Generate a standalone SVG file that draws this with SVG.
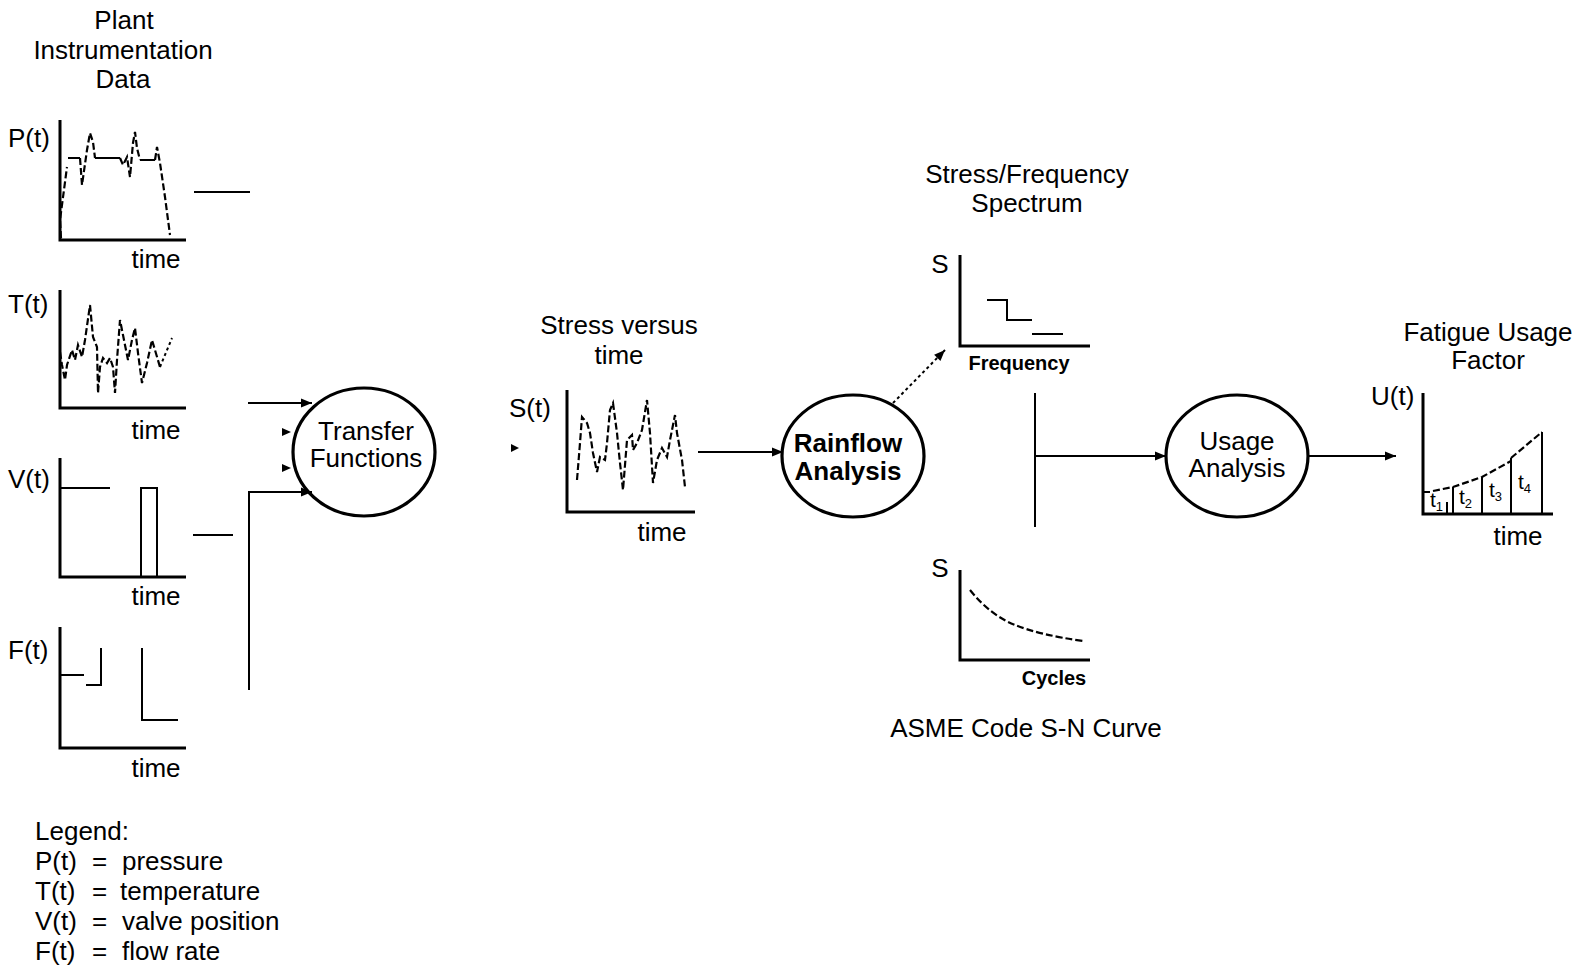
<svg xmlns="http://www.w3.org/2000/svg" width="1579" height="970" viewBox="0 0 1579 970">
<defs>
<style>
text{font-family:"Liberation Sans",Arial,sans-serif;font-size:26px;fill:#000}
.c{text-anchor:middle}
.b{font-weight:bold}
.sm{font-size:20px}
.tl{font-size:21px}
.sub{font-size:13px}
.ax{fill:none;stroke:#000;stroke-width:3}
.ln{fill:none;stroke:#000;stroke-width:2}
.ds{fill:none;stroke:#000;stroke-width:2.2;stroke-dasharray:7 3}
.dt{fill:none;stroke:#000;stroke-width:2;stroke-dasharray:3 3}
.el{fill:#fff;stroke:#000;stroke-width:3.2}
.cn{fill:none;stroke:#000;stroke-width:2}
</style>
<marker id="ah" viewBox="0 0 10 10" refX="10" refY="5" markerWidth="13" markerHeight="11" markerUnits="userSpaceOnUse" orient="auto"><path d="M0,1 L10,5 L0,9 z" fill="#000"/></marker>
</defs>
<rect width="1579" height="970" fill="#fff"/>

<g id="title-plant">
<text class="c" x="124" y="29">Plant</text>
<text class="c" x="123" y="59">Instrumentation</text>
<text class="c" x="123" y="88">Data</text>
</g>

<g id="plot-P">
<text x="8" y="147">P(t)</text>
<path class="ax" d="M60,120 V240 H186"/>
<path class="ds" d="M61,238 L60,220 L67,167"/>
<path class="ln" d="M68,158 H80"/>
<path class="ds" d="M80,158 L82,185 L87,150 L90,133 L93,142 L95,158"/>
<path class="ln" d="M95,158 H120"/>
<path class="ds" d="M120,158 L123,165 L127,157 L130,177 L133,143 L135,132 L137,148 L140,160"/>
<path class="ln" d="M140,160 H155"/>
<path class="ds" d="M155,160 L157,147 L160,163 L165,197 L170,235"/>
<text class="c" x="156" y="268">time</text>
</g>

<g id="plot-T">
<text x="8" y="313">T(t)</text>
<path class="ax" d="M60,290 V408 H186"/>
<path class="ds" d="M60,352 L62,365 L65,380 L67,365 L72,350 L75,360 L78,345 L82,357 L85,340 L90,305 L93,337 L97,347 L98,393 L100,367 L103,358 L107,363 L110,358 L113,367 L115,393 L117,360 L120,320 L123,335 L128,360 L132,340 L135,328 L138,353 L142,383 L147,363 L152,340 L160,367"/>
<path class="dt" d="M160,367 L172,338"/>
<text class="c" x="156" y="439">time</text>
</g>

<g id="plot-V">
<text x="8" y="488">V(t)</text>
<path class="ax" d="M60,458 V577 H186"/>
<path class="ln" d="M60,488 H110 M141,577 V488 H157 V577"/>
<text class="c" x="156" y="605">time</text>
</g>

<g id="plot-F">
<text x="8" y="659">F(t)</text>
<path class="ax" d="M60,627 V748 H186"/>
<path class="ln" d="M60,675 H84 M86,685 H101 V648 M142,648 V720 H178"/>
<text class="c" x="156" y="777">time</text>
</g>

<g id="transfer">
<ellipse class="el" cx="364" cy="452" rx="71" ry="64"/>
<text class="c" x="366" y="440">Transfer</text>
<text class="c" x="366" y="467">Functions</text>
</g>

<g id="stress-time">
<text class="c" x="619" y="334">Stress versus</text>
<text class="c" x="619" y="364">time</text>
<text x="509" y="417">S(t)</text>
<path class="ax" d="M567,390 V512 H695"/>
<path class="ds" d="M577,480 L580,443 L582,417 L587,423 L590,433 L593,453 L597,472 L600,457 L605,460 L607,443 L610,410 L613,403 L617,433 L620,463 L623,490 L627,440 L632,435 L633,450 L637,443 L642,430 L647,400 L650,433 L653,483 L657,460 L662,448 L667,457 L670,440 L675,415 L677,433 L682,460 L685,487"/>
<text class="c" x="662" y="541">time</text>
</g>

<g id="rainflow">
<ellipse class="el" cx="853" cy="456" rx="71" ry="61"/>
<text class="c b" x="848" y="452">Rainflow</text>
<text class="c b" x="848" y="480">Analysis</text>
</g>

<g id="spectrum">
<text class="c" x="1027" y="183">Stress/Frequency</text>
<text class="c" x="1027" y="212">Spectrum</text>
<text class="c" x="940" y="273">S</text>
<path class="ax" d="M960,255 V346 H1090"/>
<path class="ln" d="M987,300 H1007 V320 H1032 M1032,334 H1063"/>
<text class="c b sm" x="1019" y="370">Frequency</text>
</g>

<g id="sn-curve">
<text class="c" x="940" y="577">S</text>
<path class="ax" d="M960,570 V660 H1090"/>
<path class="ds" d="M970,590 Q990,615 1015,625 Q1040,635 1083,641"/>
<text class="c b sm" x="1054" y="685">Cycles</text>
<text class="c" x="1026" y="737">ASME Code S-N Curve</text>
</g>

<g id="usage">
<ellipse class="el" cx="1237" cy="456" rx="71" ry="61"/>
<text class="c" x="1237" y="450">Usage</text>
<text class="c" x="1237" y="477">Analysis</text>
</g>

<g id="fatigue">
<text class="c" x="1488" y="341">Fatigue Usage</text>
<text class="c" x="1488" y="369">Factor</text>
<text x="1371" y="405">U(t)</text>
<path class="ax" d="M1423,393 V514 H1553"/>
<path class="ln" d="M1423,492 H1430 M1447,514 V502 M1453,514 V487 M1482,514 V477 M1511,514 V458 M1542,514 V432"/>
<path class="ds" d="M1433,491 L1453,487 L1482,477 L1511,461"/>
<path class="ds" d="M1511,458 L1542,432"/>
<text class="tl" x="1430" y="507">t<tspan class="sub" dy="4">1</tspan></text>
<text class="tl" x="1459" y="504">t<tspan class="sub" dy="4">2</tspan></text>
<text class="tl" x="1489" y="497">t<tspan class="sub" dy="4">3</tspan></text>
<text class="tl" x="1518" y="489">t<tspan class="sub" dy="4">4</tspan></text>
<text class="c" x="1518" y="545">time</text>
</g>

<g id="legend">
<text x="35" y="840">Legend:</text>
<text x="35" y="870">P(t)</text><text x="92" y="870">=</text><text x="122" y="870">pressure</text>
<text x="35" y="900">T(t)</text><text x="92" y="900">=</text><text x="120" y="900">temperature</text>
<text x="35" y="930">V(t)</text><text x="92" y="930">=</text><text x="122" y="930">valve position</text>
<text x="35" y="960">F(t)</text><text x="92" y="960">=</text><text x="122" y="960">flow rate</text>
</g>

<g id="connectors">
<path class="cn" d="M194,192 H250"/>
<path class="cn" d="M193,535 H233"/>
<path class="cn" d="M248,403 H312" marker-end="url(#ah)"/>
<path d="M282,428 L291,432 L282,436 z"/>
<path d="M282,464 L291,468 L282,472 z"/>
<path class="cn" d="M249,690 V492 H312" marker-end="url(#ah)"/>
<path d="M511,444 L519,448 L511,452 z"/>
<path class="cn" d="M698,452 H783" marker-end="url(#ah)"/>
<path class="cn" d="M893,403 L945,350" stroke-dasharray="3 3" marker-end="url(#ah)"/>
<path class="cn" d="M1035,393 V527"/>
<path class="cn" d="M1035,456 H1166" marker-end="url(#ah)"/>
<path class="cn" d="M1308,456 H1396" marker-end="url(#ah)"/>
</g>
</svg>
